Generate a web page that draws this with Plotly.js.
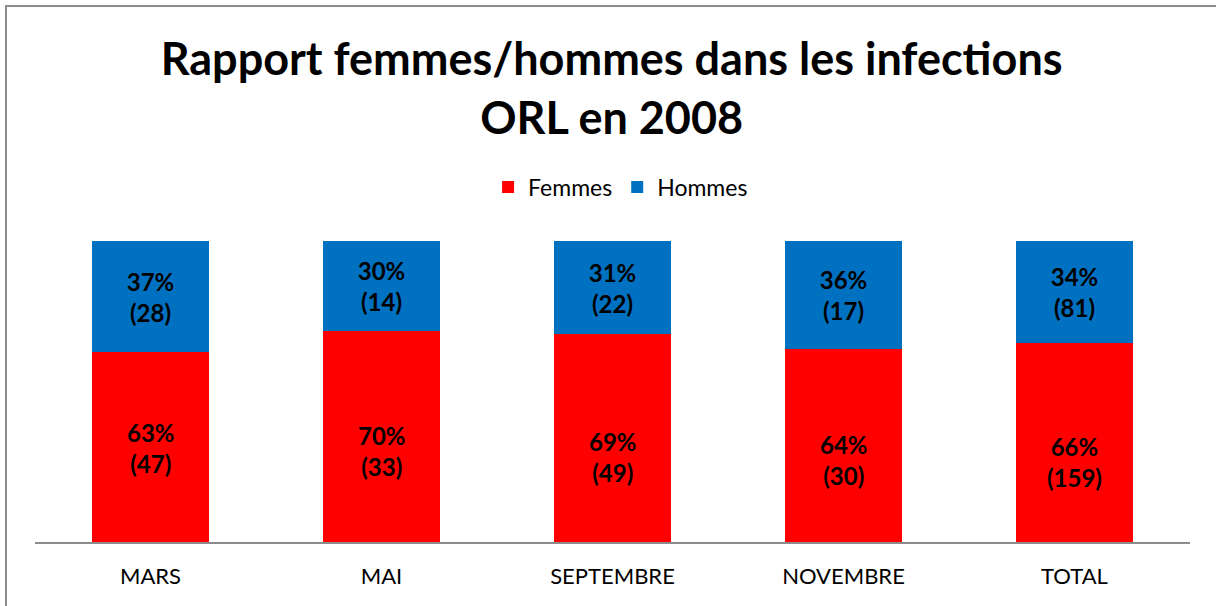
<!DOCTYPE html>
<html>
<head>
<meta charset="utf-8">
<script src="https://cdn.plot.ly/plotly-3.0.1.min.js"></script>
<style>
html,body{margin:0;padding:0;background:#fff;}
#wrap{position:relative;width:1216px;height:606px;overflow:hidden;}
#chart{position:absolute;left:0;top:0;width:1216px;height:606px;}
#frame{position:absolute;left:5px;top:5px;width:1300px;height:700px;border-left:2px solid #8c8c8c;border-top:2px solid #8c8c8c;pointer-events:none;}
</style>
</head>
<body>
<div id="wrap"><div id="chart"></div><div id="frame"></div></div>
<script>
const categories = ["MARS", "MAI", "SEPTEMBRE", "NOVEMBRE", "TOTAL"];
const femmesPct = [63, 70, 69, 64, 66];
const hommesPct = [37, 30, 31, 36, 34];
const femmesCount = [47, 33, 49, 30, 159];
const hommesCount = [28, 14, 22, 17, 81];

const FONT = "Lato, 'Open Sans', sans-serif";
// label nudges (pixels downward) for the Femmes labels, as placed in the original
const femmesLabelNudge = [1, 14, 19, 14, 19];

function labels(pct, cnt){ return pct.map((p,i)=> p + "%<br>(" + cnt[i] + ")"); }
const femmesLabels = labels(femmesPct, femmesCount);

const traces = [
  {type:"bar", name:"Femmes", x:categories, y:femmesPct.map(v=>v/100),
   marker:{color:"#ff0000"}, textposition:"none", hoverinfo:"skip"},
  {type:"bar", name:"Hommes", x:categories, y:hommesPct.map(v=>v/100),
   marker:{color:"#0070c0"}, text:labels(hommesPct, hommesCount),
   textposition:"inside", insidetextanchor:"middle", constraintext:"none",
   textfont:{family:FONT, size:24, color:"#000", weight:"bold"}, hoverinfo:"skip"}
];

const annotations = categories.map((c,i)=>({
  x:c, y:femmesPct[i]/200, xref:"x", yref:"y", showarrow:false,
  text:"<b>"+femmesLabels[i]+"</b>", yshift:-femmesLabelNudge[i],
  xanchor:"center", yanchor:"middle", align:"center",
  font:{family:FONT, size:24, color:"#000"}
}));

const layout = {
  width:1216, height:606,
  margin:{l:35, r:26, t:241, b:64},
  barmode:"stack", bargap:0.49,
  paper_bgcolor:"#fff", plot_bgcolor:"#fff",
  font:{family:FONT, color:"#000"},
  title:{text:"<b>Rapport femmes/hommes dans les infections<br>ORL en 2008</b>",
         font:{family:FONT, size:45, color:"#000"}, x:0.503, xanchor:"center",
         y:1-75/606, yanchor:"middle", yref:"container"},
  showlegend:true,
  legend:{orientation:"h", x:0.507, xanchor:"center", y:1-187/606, yanchor:"middle", yref:"container",
          font:{family:FONT, size:23, color:"#000"}, traceorder:"normal", itemwidth:30},
  annotations:annotations,
  xaxis:{type:"category", showline:true, linecolor:"#8c8c8c", linewidth:2, ticks:"",
         ticklabelstandoff:14,
         tickfont:{family:FONT, size:22, color:"#000"}, showgrid:false, zeroline:false, fixedrange:true},
  yaxis:{range:[0,1], visible:false, showgrid:false, zeroline:false, fixedrange:true}
};

Plotly.newPlot("chart", traces, layout, {displayModeBar:false, staticPlot:true});
</script>
</body>
</html>
